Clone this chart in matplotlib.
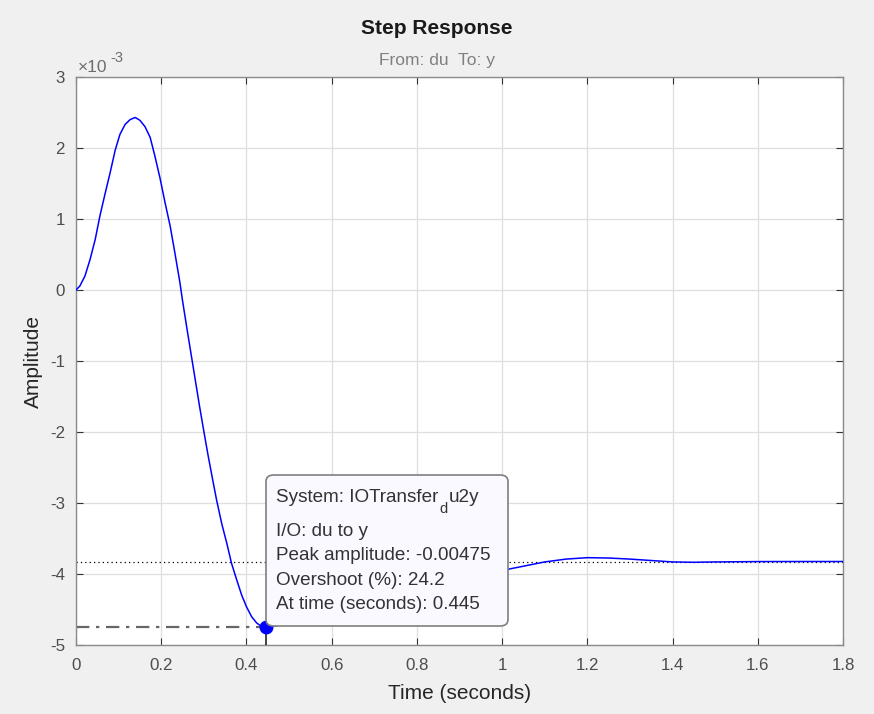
import matplotlib
matplotlib.use("Agg")
import matplotlib.pyplot as plt
from matplotlib.patches import FancyBboxPatch

plt.rcParams['font.family'] = ['Liberation Sans', 'DejaVu Sans']

# Step response samples (time in s, amplitude in units of 1e-3)
t_vals = [0.0, 0.009, 0.021, 0.033, 0.045, 0.056, 0.068, 0.080, 0.092, 0.103,
          0.115, 0.127, 0.139, 0.150, 0.162, 0.174, 0.185, 0.197, 0.209, 0.221,
          0.232, 0.244, 0.25, 0.26, 0.27, 0.28, 0.29, 0.30, 0.31, 0.321, 0.330,
          0.342, 0.354, 0.365, 0.377, 0.389, 0.400, 0.412, 0.424, 0.436, 0.445,
          0.50, 0.60, 0.70, 0.80, 0.90, 1.00, 1.05, 1.10, 1.15, 1.20, 1.25, 1.30,
          1.35, 1.40, 1.45, 1.50, 1.60, 1.70, 1.80]
y_vals = [0.0, 0.056, 0.197, 0.43, 0.71, 1.04, 1.35, 1.65, 1.97, 2.19,
          2.33, 2.40, 2.43, 2.39, 2.30, 2.15, 1.89, 1.58, 1.23, 0.90,
          0.525, 0.10, -0.15, -0.53, -0.90, -1.27, -1.64, -1.99, -2.33, -2.68, -2.96,
          -3.29, -3.57, -3.85, -4.08, -4.30, -4.46, -4.60, -4.69, -4.74, -4.75,
          -4.70, -4.50, -4.30, -4.13, -4.02, -3.95, -3.89, -3.83, -3.79, -3.77, -3.775, -3.79,
          -3.81, -3.83, -3.835, -3.83, -3.825, -3.824, -3.824]

steady_value = -3.824
peak_time = 0.445
peak_value = -4.75

x_ticks = [0, 0.2, 0.4, 0.6, 0.8, 1, 1.2, 1.4, 1.6, 1.8]
x_tick_labels = ['0', '0.2', '0.4', '0.6', '0.8', '1', '1.2', '1.4', '1.6', '1.8']
y_ticks = [-5, -4, -3, -2, -1, 0, 1, 2, 3]
y_tick_labels = ['-5', '-4', '-3', '-2', '-1', '0', '1', '2', '3']

tip_lines = ["I/O: du to y",
             "Peak amplitude: -0.00475",
             "Overshoot (%): 24.2",
             "At time (seconds): 0.445"]

W, H = 874, 714
fig = plt.figure(figsize=(W/100, H/100), dpi=100, facecolor='#f0f0f0')
ax = fig.add_axes([76/W, 1-645/H, (843-76)/W, (645-77)/H])
ax.set_facecolor('white')

ax.plot(t_vals, y_vals, color='#0000ff', lw=1.1, zorder=3)
ax.axhline(steady_value, color='black', lw=0.9, ls=(0, (1, 2.5)), zorder=2)
ax.plot([0, peak_time], [peak_value, peak_value], color='#666666', lw=1.6,
        ls=(0, (6, 3, 1.5, 3)), zorder=2)
ax.plot([peak_time, peak_time], [-5, peak_value], color='#222222', lw=1.2, zorder=4)
ax.plot([peak_time], [peak_value], 'o', color='#0000ff', ms=9, zorder=6, clip_on=False)

ax.set_xlim(0, 1.8)
ax.set_ylim(-5, 3)
ax.set_xticks(x_ticks)
ax.set_xticklabels(x_tick_labels)
ax.set_yticks(y_ticks)
ax.set_yticklabels(y_tick_labels)
ax.grid(True, color='#dedede', lw=0.9)
ax.set_axisbelow(True)
ax.tick_params(direction='in', length=5, width=0.8, color='#333333',
               labelsize=12.2, labelcolor='#4d4d4d', top=True, right=True)
ax.tick_params(axis='x', pad=9)
ax.tick_params(axis='y', pad=8)
for s in ax.spines.values():
    s.set_color('#8c8c8c')
    s.set_linewidth(1.0)

ax.set_xlabel('Time (seconds)', fontsize=15, color='#262626', labelpad=8)
ax.set_ylabel('Amplitude', fontsize=15, color='#262626', labelpad=5)

fig.text(0.5, 1-28/H, 'Step Response', ha='center', va='center',
         fontsize=15, fontweight='bold', color='#1a1a1a')
fig.text(0.5, 1-60/H, 'From: du  To: y', ha='center', va='center',
         fontsize=12.5, color='#808080')
fig.text(78/W, 1-68/H, '×10', ha='left', va='center', fontsize=12.5, color='#6e6e6e')
fig.text(110/W, 1-58/H, '-3', ha='left', va='center', fontsize=10.5, color='#6e6e6e')

# data tip box (in pixel coordinates of the figure)
box = FancyBboxPatch((266/W, 1-626/H), (508-266)/W, (626-475)/H,
                     boxstyle='round,pad=0,rounding_size=0.009',
                     transform=fig.transFigure, facecolor='#f9f9ff',
                     edgecolor='#7f7f7f', lw=1.2, zorder=10)
fig.patches.append(box)
fs_tip = 13.6
t1 = fig.text(276/W, 1-498/H, 'System: IOTransfer', ha='left', va='center',
              fontsize=fs_tip, color='#333333', zorder=11)
renderer = fig.canvas.get_renderer()
bb = t1.get_window_extent(renderer)
x_sub = bb.x1 + 1
t2 = fig.text(x_sub/W, 1-509/H, 'd', ha='left', va='center',
              fontsize=10.5, color='#333333', zorder=11)
bb2 = t2.get_window_extent(renderer)
fig.text((bb2.x1 + 1)/W, 1-498/H, 'u2y', ha='left', va='center',
         fontsize=fs_tip, color='#333333', zorder=11)
for i, line in enumerate(tip_lines):
    fig.text(276/W, 1-(531 + 24.6*i)/H, line, ha='left', va='center',
             fontsize=fs_tip, color='#333333', zorder=11)

fig.savefig('out.png', dpi=100, facecolor=fig.get_facecolor())
